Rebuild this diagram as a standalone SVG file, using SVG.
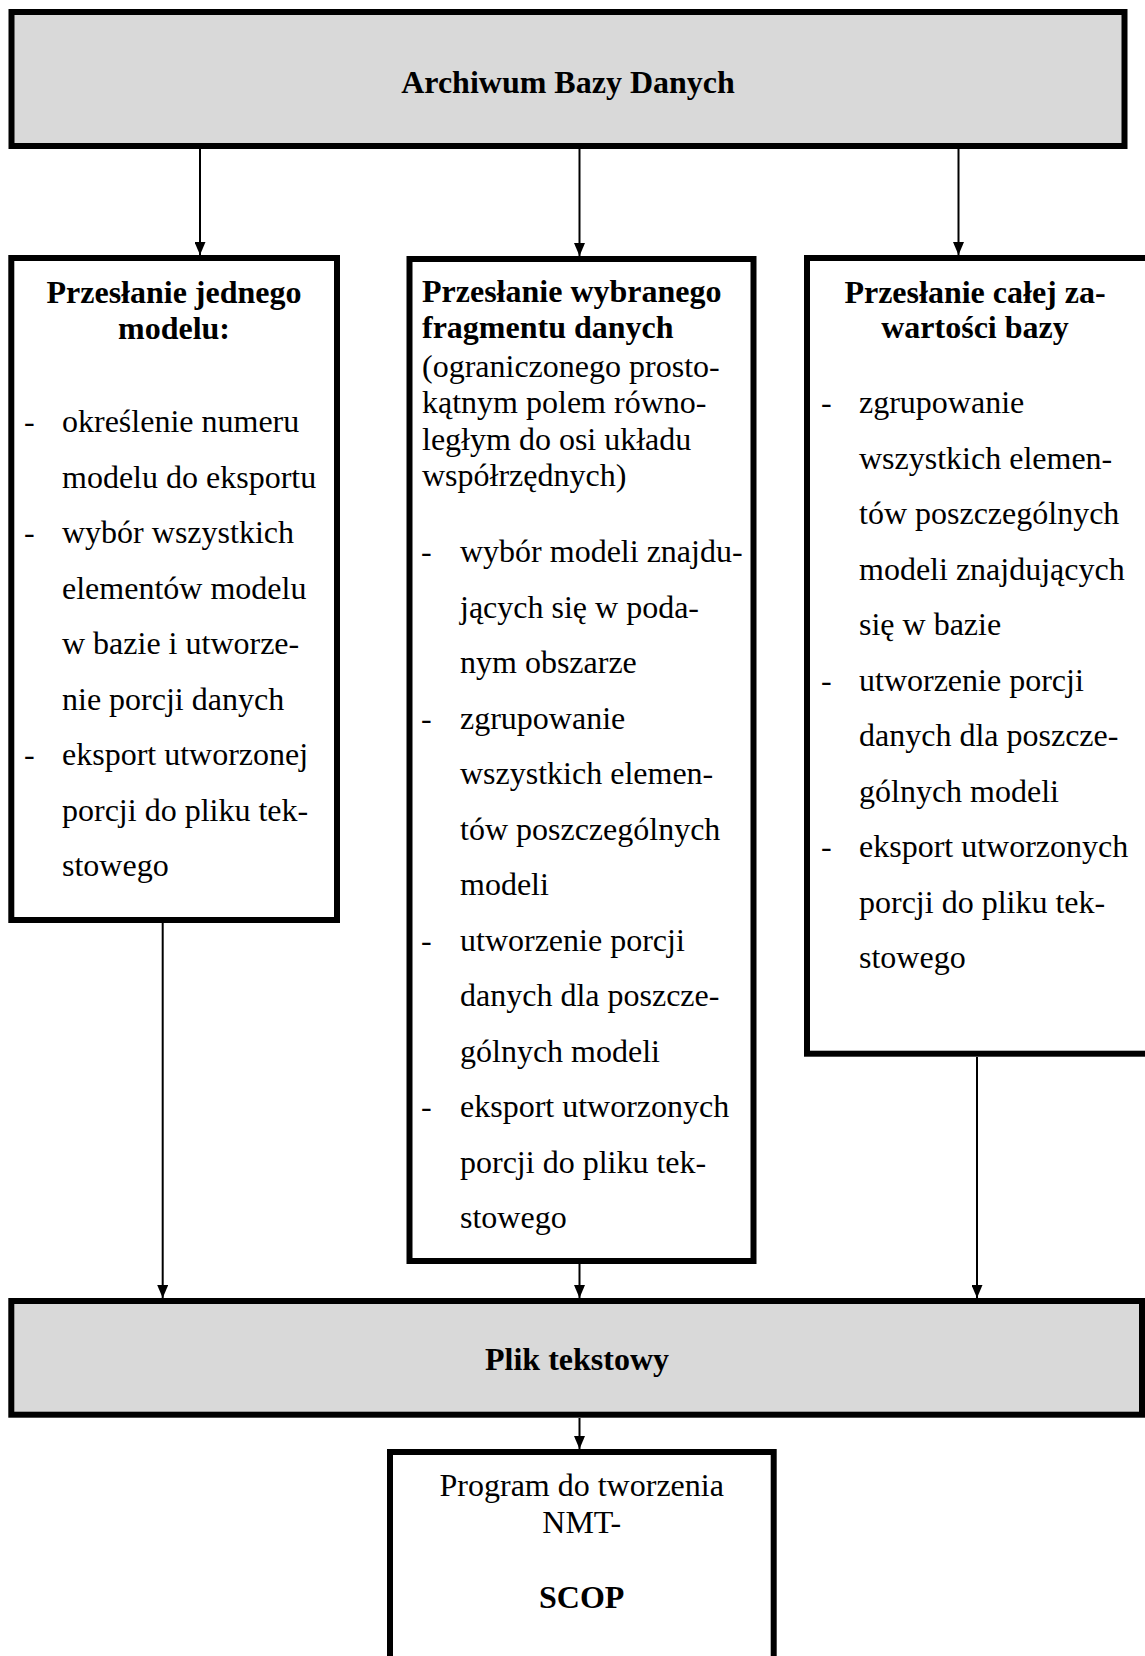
<svg xmlns="http://www.w3.org/2000/svg" width="1145" height="1656" viewBox="0 0 1145 1656">
<defs>
<style>
.box{stroke:#000;stroke-width:6;fill:#fff}
.gray{fill:#d9d9d9}
text{font-family:"Liberation Serif","Times New Roman",serif;font-size:32px;fill:#000}
.b{font-weight:bold}
.c{text-anchor:middle}
.conn{stroke:#000;stroke-width:2;fill:none;marker-end:url(#ah)}
</style>
<marker id="ah" markerUnits="userSpaceOnUse" markerWidth="14" markerHeight="11" refX="13" refY="5.5" orient="auto">
<path d="M0,0 L13,5.5 L0,11 Z" fill="#000"/>
</marker>
</defs>
<rect width="1145" height="1656" fill="#fff"/>

<g id="connectors">
<line class="conn" x1="200" y1="149" x2="200" y2="255"/>
<line class="conn" x1="579.5" y1="149" x2="579.5" y2="256"/>
<line class="conn" x1="958.5" y1="149" x2="958.5" y2="255"/>
<line class="conn" x1="162.7" y1="923" x2="162.7" y2="1298"/>
<line class="conn" x1="579.5" y1="1264" x2="579.5" y2="1298"/>
<line class="conn" x1="977" y1="1057" x2="977" y2="1298"/>
<line class="conn" x1="579.5" y1="1418" x2="579.5" y2="1449"/>
</g>

<g id="archiwum">
<rect class="box gray" x="11.5" y="12" width="1113" height="134"/>
<text class="b c" x="568" y="93">Archiwum Bazy Danych</text>
</g>

<g id="jeden-model">
<rect class="box" x="11.3" y="258" width="325.7" height="662"/>
<text class="b c" x="174" y="303">Przesłanie jednego</text>
<text class="b c" x="174" y="339">modelu:</text>
<text x="24" y="432">-</text>
<text x="62" y="432">określenie numeru</text>
<text x="62" y="487.5">modelu do eksportu</text>
<text x="24" y="543">-</text>
<text x="62" y="543">wybór wszystkich</text>
<text x="62" y="598.5">elementów modelu</text>
<text x="62" y="654">w bazie i utworze-</text>
<text x="62" y="709.5">nie porcji danych</text>
<text x="24" y="765">-</text>
<text x="62" y="765">eksport utworzonej</text>
<text x="62" y="820.5">porcji do pliku tek-</text>
<text x="62" y="876">stowego</text>
</g>

<g id="fragment">
<rect class="box" x="409.5" y="259" width="344" height="1002"/>
<text class="b" x="422" y="302">Przesłanie wybranego</text>
<text class="b" x="422" y="338">fragmentu danych</text>
<text x="422" y="376.5">(ograniczonego prosto-</text>
<text x="422" y="413">kątnym polem równo-</text>
<text x="422" y="449.5">ległym do osi układu</text>
<text x="422" y="486">współrzędnych)</text>
<text x="421" y="562">-</text>
<text x="460" y="562">wybór modeli znajdu-</text>
<text x="460" y="617.5">jących się w poda-</text>
<text x="460" y="673">nym obszarze</text>
<text x="421" y="728.5">-</text>
<text x="460" y="728.5">zgrupowanie</text>
<text x="460" y="784">wszystkich elemen-</text>
<text x="460" y="839.5">tów poszczególnych</text>
<text x="460" y="895">modeli</text>
<text x="421" y="950.5">-</text>
<text x="460" y="950.5">utworzenie porcji</text>
<text x="460" y="1006">danych dla poszcze-</text>
<text x="460" y="1061.5">gólnych modeli</text>
<text x="421" y="1117">-</text>
<text x="460" y="1117">eksport utworzonych</text>
<text x="460" y="1172.5">porcji do pliku tek-</text>
<text x="460" y="1228">stowego</text>
</g>

<g id="cala-baza">
<rect class="box" x="807" y="258" width="345" height="795.7"/>
<text class="b c" x="975" y="303">Przesłanie całej za-</text>
<text class="b c" x="975" y="338">wartości bazy</text>
<text x="821" y="413">-</text>
<text x="859" y="413">zgrupowanie</text>
<text x="859" y="468.5">wszystkich elemen-</text>
<text x="859" y="524">tów poszczególnych</text>
<text x="859" y="579.5">modeli znajdujących</text>
<text x="859" y="635">się w bazie</text>
<text x="821" y="690.5">-</text>
<text x="859" y="690.5">utworzenie porcji</text>
<text x="859" y="746">danych dla poszcze-</text>
<text x="859" y="801.5">gólnych modeli</text>
<text x="821" y="857">-</text>
<text x="859" y="857">eksport utworzonych</text>
<text x="859" y="912.5">porcji do pliku tek-</text>
<text x="859" y="968">stowego</text>
</g>

<g id="plik">
<rect class="box gray" x="11.3" y="1301" width="1130.7" height="113.7"/>
<text class="b c" x="577" y="1370">Plik tekstowy</text>
</g>

<g id="scop">
<rect class="box" x="390" y="1452" width="383.7" height="300"/>
<text class="c" x="581.7" y="1496">Program do tworzenia</text>
<text class="c" x="581.7" y="1533">NMT-</text>
<text class="b c" x="581.7" y="1608">SCOP</text>
</g>
</svg>
